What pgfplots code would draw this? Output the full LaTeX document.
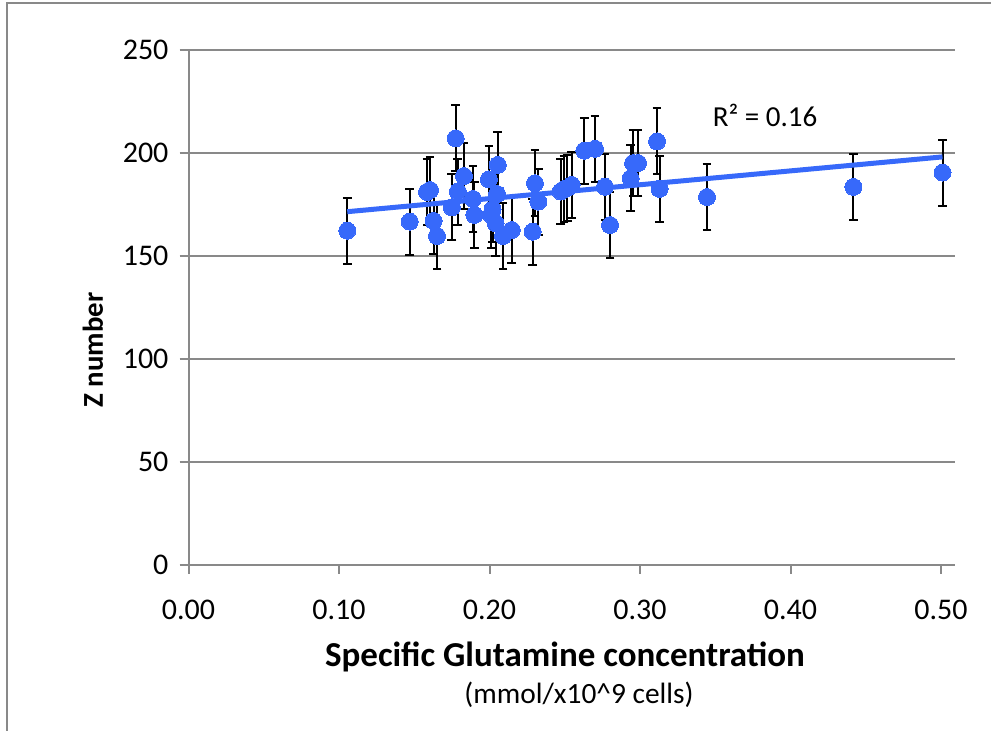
\documentclass[border=0pt]{standalone}
\usepackage{pgfplots}
\usepackage{pgfplotstable}
\pgfplotsset{compat=1.18}
\usepackage{fontspec}
\setmainfont{Carlito}
\definecolor{gr}{RGB}{137,137,137}
\definecolor{mk}{RGB}{55,105,250}
\pgfplotstableread{
x y
0.1055 162.3
0.1470 166.7
0.1585 181.1
0.1605 182.0
0.1628 167.0
0.1651 159.7
0.1750 173.6
0.1775 207.1
0.1790 181.2
0.1830 188.8
0.1890 177.7
0.1900 169.9
0.1996 187.2
0.2010 170.0
0.2020 172.7
0.2040 165.9
0.2050 180.1
0.2055 194.2
0.2090 159.7
0.2148 162.6
0.2287 161.8
0.2302 185.3
0.2325 176.4
0.2473 181.3
0.2495 182.5
0.2517 183.0
0.2546 184.5
0.2630 201.1
0.2701 202.0
0.2767 183.6
0.2801 165.0
0.2938 187.7
0.2954 195.1
0.2987 195.1
0.3113 205.6
0.3130 182.6
0.3445 178.6
0.4418 183.5
0.5010 190.5
}\datatab
\begin{document}
\begin{tikzpicture}[x=1pt,y=1pt]
\useasboundingbox (0,0) rectangle (495.5,365.5);
\draw[gr, line width=1pt] (3.5,0) -- (3.5,364) -- (495.5,364);
\begin{axis}[at={(94.25pt,83pt)}, anchor=south west, scale only axis,
  width=383.25pt, height=257.5pt,
  xmin=0, xmax=0.5093, ymin=0, ymax=250,
  axis x line*=bottom, axis y line*=left,
  axis line style={gr, line width=1pt, -},
  xtick={0,0.1,0.2,0.3,0.4,0.5}, ytick={0,50,100,150,200,250},
  ymajorgrids, grid style={gr, line width=1pt},
  tick style={gr, line width=1pt}, tick align=outside, major tick length=4.5pt,
  ticklabel style={font=\fontsize{15}{18}\selectfont, text=black},
  /pgf/number format/assume math mode=true,
  x tick label style={yshift=-9.5pt, /pgf/number format/.cd, fixed, fixed zerofill, precision=2},
  y tick label style={xshift=-2pt, /pgf/number format/.cd, fixed, precision=0},
  clip=false]
\addplot[black, draw=none, mark=none, forget plot,
  error bars/.cd, y dir=both, y fixed=16, error mark=-,
  error bar style={black, line width=1pt, solid},
  error mark options={black, line width=1pt, mark size=2.2pt, rotate=90}] table[x=x,y=y] {\datatab};
\addplot[mk, only marks, mark=*, mark size=4.25pt, mark options={fill=mk, draw=mk, line width=0pt}] table[x=x,y=y] {\datatab};
\addplot[mk, line width=2.5pt] coordinates {(0.1055,171.5) (0.5010,198.1)};
\end{axis}
\node[font=\fontsize{17.5}{21}\selectfont\bfseries] at (282.5,37) {Specific Glutamine concentration};
\node[font=\fontsize{14.7}{17}\selectfont] at (289.5,18) {(mmol/x10\textasciicircum 9 cells)};
\node[rotate=90, font=\fontsize{14.4}{17}\selectfont\bfseries] at (46.5,190.5) {Z number};
\node[font=\fontsize{14.5}{17}\selectfont] at (382.5,308) {R² = 0.16};
\end{tikzpicture}
\end{document}
